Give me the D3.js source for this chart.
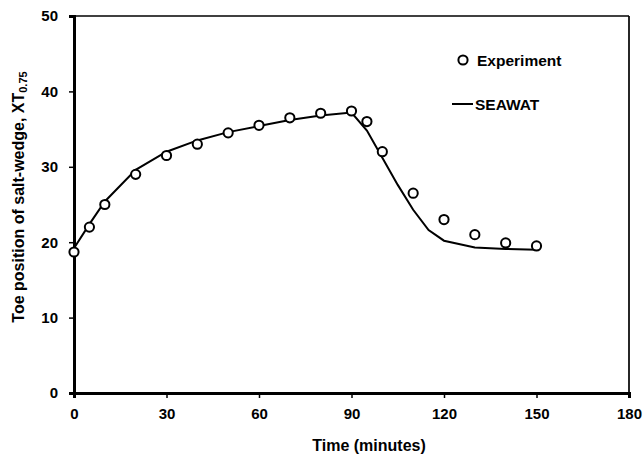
<html>
<head>
    <meta charset="UTF-8">
    <script src="https://d3js.org/d3.v7.min.js"></script>
    <style>
        body { margin: 0; background: #fff; }
        text { font-family: "Liberation Sans", Arial, sans-serif; font-weight: bold; fill: #000; }
    </style>
</head>
<body>
</body>
<script>
    // experiment points
    var expTime = [0, 5, 10, 20, 30, 40, 50, 60, 70, 80, 90, 95, 100, 110, 120, 130, 140, 150];
    var expToe = [18.7, 22, 25, 29, 31.5, 33, 34.5, 35.5, 36.5, 37.1, 37.4, 36, 32, 26.5, 23, 21, 19.9, 19.5];

    // SEAWAT curve
    var simTime = [0, 5, 10, 20, 30, 40, 50, 60, 70, 80, 90, 95, 100, 105, 110, 115, 120, 130, 140, 150];
    var simToe = [19.2, 22.4, 25.4, 29.6, 32, 33.5, 34.6, 35.4, 36.2, 36.8, 37.2, 34.8, 31.2, 27.6, 24.3, 21.6, 20.2, 19.3, 19.1, 19.0];

    var xTicks = [0, 30, 60, 90, 120, 150, 180];
    var yTicks = [0, 10, 20, 30, 40, 50];

    var margin = { top: 16, right: 15, bottom: 65, left: 74 },
        width = 644 - margin.left - margin.right,
        height = 458 - margin.top - margin.bottom;

    var svg = d3.select("body")
        .append("svg")
        .attr("width", 644)
        .attr("height", 458);

    var g = svg.append("g")
        .attr("transform", "translate(" + margin.left + "," + margin.top + ")");

    var x = d3.scaleLinear().domain([0, 180]).range([0, width]);
    var y = d3.scaleLinear().domain([0, 50]).range([height, 0]);

    // frame top / right
    g.append("line").attr("x1", 0).attr("x2", width).attr("y1", 0).attr("y2", 0)
        .style("stroke", "#000").style("stroke-width", 1.7);
    g.append("line").attr("x1", width).attr("x2", width).attr("y1", 0).attr("y2", height)
        .style("stroke", "#000").style("stroke-width", 1.7);

    // axes
    var xAxis = g.append("g")
        .attr("transform", "translate(0," + height + ")")
        .call(d3.axisBottom(x).tickValues(xTicks).tickSize(5).tickPadding(10));
    var yAxis = g.append("g")
        .call(d3.axisLeft(y).tickValues(yTicks).tickSize(5).tickPadding(11));

    [xAxis, yAxis].forEach(function (a) {
        a.select(".domain").style("stroke", "#000").style("stroke-width", 3);
        a.selectAll(".tick line").style("stroke", "#000").style("stroke-width", 1.5);
        a.selectAll(".tick text").style("font-size", "15px").style("font-family", "Liberation Sans, Arial, sans-serif").style("font-weight", "bold");
    });

    // SEAWAT line
    var line = d3.line()
        .x(function (d, i) { return x(simTime[i]); })
        .y(function (d) { return y(d); });

    g.append("path")
        .datum(simToe)
        .attr("d", line)
        .style("fill", "none")
        .style("stroke", "#000")
        .style("stroke-width", 2);

    // experiment circles
    g.selectAll(".pt")
        .data(expToe)
        .enter()
        .append("circle")
        .attr("class", "pt")
        .attr("cx", function (d, i) { return x(expTime[i]); })
        .attr("cy", function (d) { return y(d); })
        .attr("r", 4.6)
        .style("fill", "#fff")
        .style("stroke", "#000")
        .style("stroke-width", 2);

    // legend
    var legend = svg.append("g");
    legend.append("circle").attr("cx", 463).attr("cy", 60).attr("r", 4.6)
        .style("fill", "#fff").style("stroke", "#000").style("stroke-width", 2);
    legend.append("text").attr("x", 477).attr("y", 65.5).style("font-size", "15.5px").text("Experiment");
    legend.append("line").attr("x1", 452).attr("x2", 473).attr("y1", 104).attr("y2", 104)
        .style("stroke", "#000").style("stroke-width", 2);
    legend.append("text").attr("x", 475).attr("y", 109.5).style("font-size", "15.5px").text("SEAWAT");

    // axis titles
    svg.append("text")
        .attr("x", 369)
        .attr("y", 451)
        .style("text-anchor", "middle")
        .style("font-size", "16px")
        .text("Time (minutes)");

    var yt = svg.append("text")
        .attr("transform", "translate(24,197) rotate(-90)")
        .style("text-anchor", "middle")
        .style("font-size", "16px");
    yt.append("tspan").text("Toe position of salt-wedge, XT");
    yt.append("tspan").attr("dy", 3).style("font-size", "11px").text("0.75");
</script>
</html>
